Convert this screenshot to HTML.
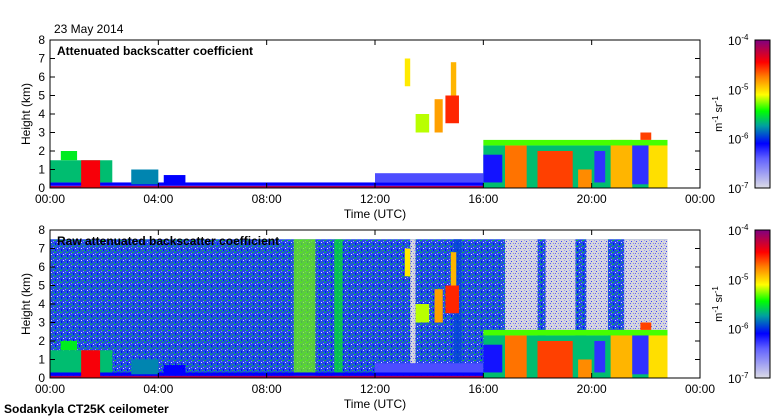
<!DOCTYPE html>
<html><head><meta charset="utf-8"><style>
body{margin:0;background:#fff;}
svg{display:block;font-family:"Liberation Sans",sans-serif;}
</style></head><body>
<svg id="c" width="780" height="420" viewBox="0 0 780 420">
<defs>
<linearGradient id="cb" x1="0" y1="1" x2="0" y2="0">
<stop offset="0" stop-color="#dcdce6"/><stop offset="0.2" stop-color="#6060ff"/><stop offset="0.3" stop-color="#0000ff"/>
<stop offset="0.42" stop-color="#00a0a0"/><stop offset="0.52" stop-color="#00ff00"/><stop offset="0.63" stop-color="#ffff00"/>
<stop offset="0.75" stop-color="#ff8000"/><stop offset="0.85" stop-color="#ff0000"/><stop offset="1" stop-color="#800080"/>
</linearGradient>
<pattern id="noise" width="6" height="6" patternUnits="userSpaceOnUse">
<rect width="6" height="6" fill="#2448e8"/>
<rect x="0" y="0" width="2" height="1" fill="#10c040"/><rect x="3" y="2" width="1" height="1" fill="#e0e0ff"/>
<rect x="4" y="4" width="1" height="1" fill="#20d020"/><rect x="1" y="3" width="1" height="2" fill="#0000ff"/>
<rect x="5" y="1" width="1" height="1" fill="#9090ff"/><rect x="2" y="5" width="1" height="1" fill="#00a080"/>
<rect x="0" y="4" width="1" height="1" fill="#00b0a0"/>
</pattern>
<pattern id="light" width="5" height="5" patternUnits="userSpaceOnUse">
<rect width="5" height="5" fill="#d6d6dc"/>
<rect x="1" y="1" width="1" height="1" fill="#4040ff"/><rect x="3" y="3" width="1" height="1" fill="#8080ff"/>
<rect x="4" y="0" width="1" height="1" fill="#a0a0ff"/><rect x="0" y="3" width="1" height="1" fill="#6060f0"/>
</pattern>
</defs>
<g id="g"></g>
</svg>
<script>
const xTicks=["00:00","04:00","08:00","12:00","16:00","20:00","00:00"];
const yTicks=[0,1,2,3,4,5,6,7,8];
const cbTicks=["-4","-5","-6","-7"];
// [t0 h, t1 h, base km, top km, level 0..1]
const lowClouds=[
[0,22.8,0,0.12,0.95],[0,22.8,0.12,0.3,0.3],[12,16,0.3,0.8,0.22],
[0,2.3,0.3,1.5,0.45],[0.4,1.0,1.5,2.0,0.5],[1.15,1.85,0,1.5,0.86],[3.0,4.0,0.2,1.0,0.4],[4.2,5.0,0.2,0.7,0.3],
[16,22.8,0,2.3,0.45],[16,16.7,0.3,1.8,0.28],[16.8,17.6,0,2.3,0.76],[18,19.3,0,2.0,0.8],[19.5,20,0,1,0.74],
[20.1,20.5,0.3,2,0.25],[20.7,21.5,0,2.6,0.7],[21.5,22.1,0.2,2.5,0.25],[22.1,22.8,0,2.5,0.66],
[16,22.8,2.3,2.6,0.55],[21.8,22.2,2.6,3.0,0.8]];
const highClouds=[[13.1,13.3,5.5,7.0,0.65],[13.5,14,3,4,0.6],[14.2,14.5,3,4.8,0.72],[14.6,15.1,3.5,5.0,0.82],[14.8,15.0,5,6.8,0.7]];
const rawStripes=[[9.0,9.8,0,7.5,0.57],[10.5,10.8,0,7.5,0.5],[14.9,15.2,0.3,7.5,0.35]];
const rawLight=[[16.8,18.0,0.4,7.5],[18.3,19.4,0.4,7.5],[19.8,20.6,0.4,7.5],[21.2,22.8,0.4,7.5],[13.3,13.5,0.4,7.5]];

const stops=[[0,[220,220,230]],[0.2,[96,96,255]],[0.3,[0,0,255]],[0.42,[0,160,160]],[0.52,[0,255,0]],[0.63,[255,255,0]],[0.75,[255,128,0]],[0.85,[255,0,0]],[1,[128,0,128]]];
function cmap(v){for(let i=1;i<stops.length;i++){if(v<=stops[i][0]){const a=stops[i-1],b=stops[i],f=(v-a[0])/(b[0]-a[0]);return 'rgb('+a[1].map((c,k)=>Math.round(c+(b[1][k]-c)*f)).join(',')+')';}}return 'rgb(128,0,128)';}
const NS="http://www.w3.org/2000/svg",G=document.getElementById('g');
function el(t,a,p){const e=document.createElementNS(NS,t);for(const k in a)e.setAttribute(k,a[k]);(p||G).appendChild(e);return e;}
const X0=50,X1=700;
function xs(t){return X0+t/24*(X1-X0);}
function panel(top,title,raw){
 const Y1=top+148; const ys=h=>Y1-h/8*148;
 const g=el('g',{});
 
 
 if(raw){
  const r=el('rect',{x:xs(0),y:ys(7.5),width:xs(22.8)-xs(0),height:ys(0)-ys(7.5),fill:'url(#noise)'},g);
  
  rawLight.forEach(d=>{const e=el('rect',{x:xs(d[0]),y:ys(d[3]),width:xs(d[1])-xs(d[0]),height:ys(d[2])-ys(d[3]),fill:'url(#light)'},g);
   });
  rawStripes.forEach(d=>{const e=el('rect',{x:xs(d[0]),y:ys(d[3]),width:xs(d[1])-xs(d[0]),height:ys(d[2])-ys(d[3]),fill:cmap(d[4]),opacity:0.7},g);
   });
 }
 const blocks=lowClouds.concat(highClouds);
 blocks.forEach(d=>{const e=el('rect',{x:xs(d[0]),y:ys(d[3]),width:xs(d[1])-xs(d[0]),height:ys(d[2])-ys(d[3]),fill:cmap(d[4])},g);
  });
 const f=el('rect',{x:X0,y:top,width:X1-X0,height:148,fill:'none',stroke:'#000','stroke-width':1},g);
 
 yTicks.forEach(v=>{const y=ys(v);
  el('line',{x1:X0,x2:X0+5,y1:y,y2:y,stroke:'#000'},g);el('line',{x1:X1-5,x2:X1,y1:y,y2:y,stroke:'#000'},g);
  const t=el('text',{x:X0-5,y:y+4,'text-anchor':'end','font-size':12},g);t.textContent=v;
  });
 xTicks.forEach((s,i)=>{const x=xs(i*4);
  el('line',{x1:x,x2:x,y1:top,y2:top+5,stroke:'#000'},g);el('line',{x1:x,x2:x,y1:Y1-5,y2:Y1,stroke:'#000'},g);
  const t=el('text',{x:x,y:Y1+15,'text-anchor':'middle','font-size':12},g);t.textContent=s;
  });
 const tt=el('text',{x:57,y:top+15,'font-size':12,'font-weight':'bold'},g);tt.textContent=title;
 
 const yl=el('text',{x:0,y:0,'font-size':12,'text-anchor':'middle',transform:`translate(30,${top+74}) rotate(-90)`},g);yl.textContent='Height (km)';
 
 const xl=el('text',{x:375,y:Y1+30,'font-size':12,'text-anchor':'middle'},g);xl.textContent='Time (UTC)';
 
 const cb=el('rect',{x:755,y:top,width:15,height:148,fill:'url(#cb)',stroke:'#000'},g);
 
 cbTicks.forEach((s,i)=>{const y=top+i*148/3;
  const t=el('text',{x:728,y:y+5,'font-size':12},g);t.innerHTML='10<tspan dy="-5" font-size="8">'+s+'</tspan>';
  });
 const u=el('text',{x:0,y:0,'font-size':11,'text-anchor':'middle',transform:`translate(722,${top+74}) rotate(-90)`},g);
 u.innerHTML='m<tspan dy="-4" font-size="8">-1</tspan><tspan dy="4"> sr</tspan><tspan dy="-4" font-size="8">-1</tspan>';
 
}
panel(40,'Attenuated backscatter coefficient',false);
panel(230,'Raw attenuated backscatter coefficient',true);
const d=el('text',{x:54,y:33,'font-size':12});d.textContent='23 May 2014';

const s=el('text',{x:4,y:413,'font-size':12,'font-weight':'bold'});s.textContent='Sodankyla CT25K ceilometer';

</script>
</body></html>
